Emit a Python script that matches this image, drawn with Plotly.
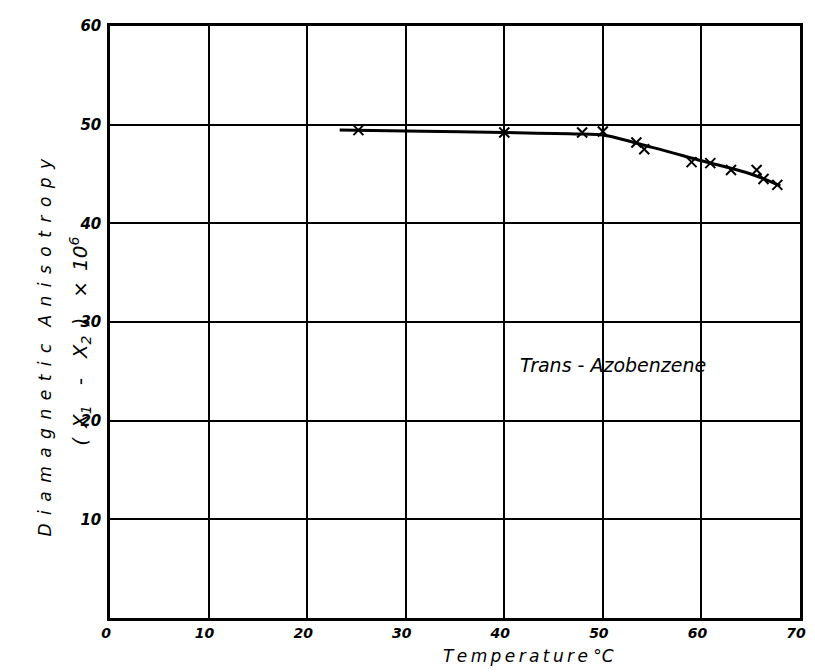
import plotly.graph_objects as go

# measured points (x markers)
temp_pts = [25.2, 40.0, 47.9, 50.0, 53.4, 54.2, 59.0, 60.9, 63.0, 65.6, 66.3, 67.7]
aniso_pts = [49.45, 49.2, 49.2, 49.3, 48.2, 47.5, 46.2, 46.1, 45.4, 45.4, 44.5, 43.9]

# drawn curve
curve_t = [23.3, 30, 40, 48, 50, 55, 60, 65, 68]
curve_a = [49.45, 49.35, 49.2, 49.05, 48.95, 47.7, 46.35, 45.0, 43.8]

x_ticks = [0, 10, 20, 30, 40, 50, 60, 70]
y_ticks = [10, 20, 30, 40, 50, 60]

EN = "\u2002"
TH = "\u2009"
label_text = "Trans - Azobenzene"
y_title_1 = EN.join(list("Diamagnetic")) + EN * 2 + EN.join(list("Anisotropy"))
y_title_2 = ("(" + EN + "X<sub>1</sub>" + EN * 2 + "-" + EN * 2 + "X<sub>2</sub>" + EN + ")"
             + EN * 2 + "×" + EN + "10<sup>6</sup>")
x_title = TH.join(list("Temperature")) + " °C"

fig = go.Figure()
fig.add_trace(go.Scatter(x=curve_t, y=curve_a, mode="lines",
                         line=dict(color="black", width=3, shape="spline"),
                         showlegend=False, hoverinfo="skip"))
fig.add_trace(go.Scatter(x=temp_pts, y=aniso_pts, mode="markers",
                         marker=dict(symbol="x-thin", size=10, line=dict(color="black", width=2)),
                         showlegend=False))

fnt = dict(family="DejaVu Sans", color="black")

fig.update_xaxes(range=[0, 70], tickvals=x_ticks, ticktext=[str(v) for v in x_ticks],
                 showgrid=True, gridcolor="black", gridwidth=1.5,
                 showline=True, linecolor="black", linewidth=2.5, mirror=True,
                 zeroline=False, ticks="", ticklen=0, ticklabelstandoff=0, ticklabelshift=-4,
                 tickfont=dict(size=14, style="italic", weight="bold", **fnt))
fig.update_yaxes(range=[0, 60], tickvals=y_ticks, ticktext=[str(v) for v in y_ticks],
                 showgrid=True, gridcolor="black", gridwidth=1.5,
                 showline=True, linecolor="black", linewidth=2.5, mirror=True,
                 zeroline=False, ticks="", ticklen=0, ticklabelstandoff=3,
                 tickfont=dict(size=15, style="italic", weight="bold", **fnt))

fig.add_annotation(x=51, y=25.6, xref="x", yref="y", text=label_text, showarrow=False,
                   font=dict(size=19, style="italic", **fnt))
fig.add_annotation(x=-0.112, y=0.458, xref="paper", yref="paper", text=y_title_1,
                   showarrow=False, textangle=-90, font=dict(size=17, style="italic", **fnt))
fig.add_annotation(x=-0.067, y=0.467, xref="paper", yref="paper", text=y_title_2,
                   showarrow=False, textangle=-90, font=dict(size=20, style="italic", **fnt))
fig.add_annotation(x=0.607, y=0, xref="paper", yref="paper", text=x_title,
                   xanchor="center", yanchor="top", yshift=-26,
                   showarrow=False, font=dict(size=17, style="italic", **fnt))

fig.update_layout(width=807, height=664, margin=dict(l=102, r=9, t=9, b=54),
                  plot_bgcolor="white", paper_bgcolor="white")

fig.write_html("out.html")
